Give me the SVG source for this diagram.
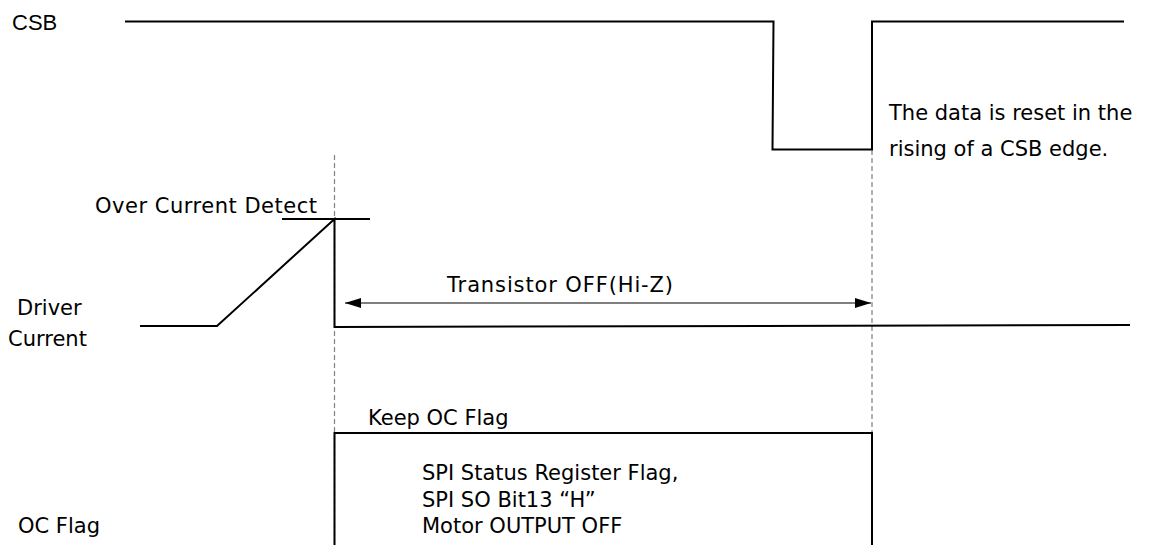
<svg xmlns="http://www.w3.org/2000/svg" width="1149" height="545" viewBox="0 0 1149 545">
<style>
.wave{fill:none;stroke:#000;stroke-width:2;stroke-linejoin:miter}
.dash{fill:none;stroke:#808080;stroke-width:1.2;stroke-dasharray:5 3}
.thin{fill:none;stroke:#000;stroke-width:1.2}
.lbl{font-family:"DejaVu Sans","Liberation Sans",sans-serif;font-size:21px;fill:#000}
.csb{font-family:"Liberation Sans",Arial,sans-serif;font-size:22px;fill:#000}
</style>
<defs>
<marker id="ah" viewBox="0 0 16 10" refX="16" refY="5" markerWidth="16" markerHeight="10" markerUnits="userSpaceOnUse" orient="auto-start-reverse">
<path d="M0,0 L16,5 L0,10 Z" fill="#000"/>
</marker>
</defs>
<rect width="1149" height="545" fill="#fff"/>
<g id="connectors">
<line class="dash" x1="334.5" y1="155" x2="334.5" y2="545"/>
<line class="dash" x1="872" y1="150" x2="872" y2="545"/>
<line class="thin" x1="345" y1="303" x2="871" y2="303" marker-start="url(#ah)" marker-end="url(#ah)"/>
</g>
<g id="csb">
<text class="csb" x="12" y="30">CSB</text>
<path class="wave" d="M125,21.5 H773.5 L772.5,149.5 H872 V21.5 H1124"/>
</g>
<g id="driver-current">
<text class="lbl" x="95" y="213" textLength="222" lengthAdjust="spacing">Over Current Detect</text>
<line class="wave" x1="282" y1="219" x2="370" y2="219"/>
<text class="lbl" x="17" y="315">Driver</text>
<text class="lbl" x="8" y="346">Current</text>
<path class="wave" d="M140,326 H217 L334.5,219 V327 L1130,325"/>
<text class="lbl" x="447" y="292" textLength="226" lengthAdjust="spacing">Transistor OFF(Hi-Z)</text>
</g>
<g id="reset-note">
<text class="lbl" x="889" y="120">The data is reset in the</text>
<text class="lbl" x="889" y="156">rising of a CSB edge.</text>
</g>
<g id="oc-flag">
<text class="lbl" x="368" y="425">Keep OC Flag</text>
<path class="wave" d="M334.5,545 V433 H872 V545"/>
<text class="lbl" x="422" y="480">SPI Status Register Flag,</text>
<text class="lbl" x="422" y="507">SPI SO Bit13 “H”</text>
<text class="lbl" x="422" y="533">Motor OUTPUT OFF</text>
<text class="lbl" x="18" y="533">OC Flag</text>
</g>
</svg>
